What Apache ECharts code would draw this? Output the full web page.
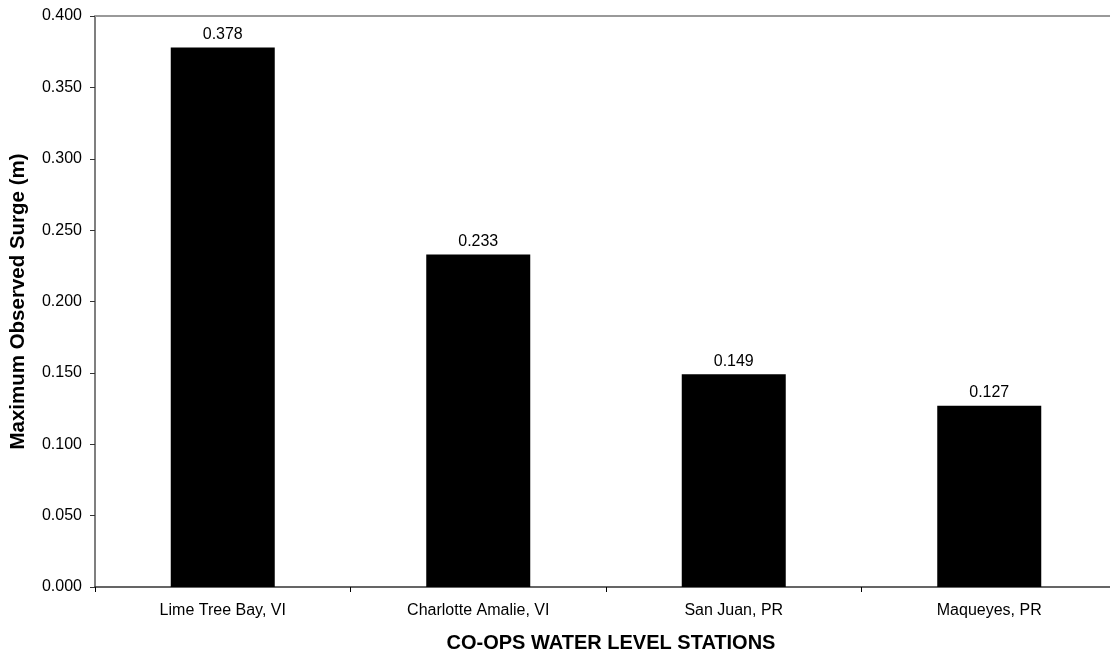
<!DOCTYPE html>
<html><head><meta charset="utf-8">
<script src="https://cdn.jsdelivr.net/npm/echarts@6/dist/echarts.min.js"></script>
<style>html,body{margin:0;padding:0;background:#fff;overflow:hidden;width:1110px;height:652px}#c{width:1117px;height:652px}</style>
</head><body><div id="c"></div>
<script>
var stations = ["Lime Tree Bay, VI", "Charlotte Amalie, VI", "San Juan, PR", "Maqueyes, PR"];
var surge = [0.378, 0.233, 0.149, 0.127];
var yTicks = {min: 0, max: 0.4, interval: 0.05};

var chart = echarts.init(document.getElementById('c'), null, {renderer: 'canvas'});
var F = 'Liberation Sans, Arial, sans-serif';
chart.setOption({
  animation: false,
  backgroundColor: '#fff',
  title: {
    text: 'CO-OPS WATER LEVEL STATIONS',
    left: 606, top: 628, textAlign: 'center',
    textStyle: {fontFamily: F, fontSize: 20, fontWeight: 'bold', color: '#000'}
  },
  grid: {left: 95, top: 16, right: 0, bottom: 65, containLabel: false},
  xAxis: [{
    type: 'category', data: stations, position: 'bottom',
    axisLine: {lineStyle: {color: '#333', width: 1.5}},
    axisTick: {show: true, alignWithLabel: false, length: 5, lineStyle: {color: '#000'}},
    axisLabel: {fontFamily: F, fontSize: 16, color: '#000', margin: 16}
  }, {
    type: 'category', data: stations, position: 'top',
    axisLine: {lineStyle: {color: '#999', width: 2}},
    axisTick: {show: false}, axisLabel: {show: false}
  }],
  yAxis: {
    type: 'value', min: yTicks.min, max: yTicks.max, interval: yTicks.interval,
    name: 'Maximum Observed Surge (m)', nameLocation: 'middle', nameGap: 66,
    nameTextStyle: {fontFamily: F, fontSize: 20.5, fontWeight: 'bold', color: '#000'},
    axisLine: {show: true, lineStyle: {color: '#555', width: 1.5}},
    axisTick: {show: true, inside: false, length: 5, lineStyle: {color: '#333'}},
    axisLabel: {fontFamily: F, fontSize: 16, color: '#000', margin: 13,
      formatter: function (v) { return v.toFixed(3); }},
    splitLine: {show: false}
  },
  series: [{
    type: 'bar', data: surge, barWidth: 104, xAxisIndex: 0,
    itemStyle: {color: '#000'},
    label: {show: true, position: 'top', distance: 5, fontFamily: F, fontSize: 16, color: '#000',
      formatter: function (p) { return p.value.toFixed(3); }}
  }]
});
</script></body></html>
